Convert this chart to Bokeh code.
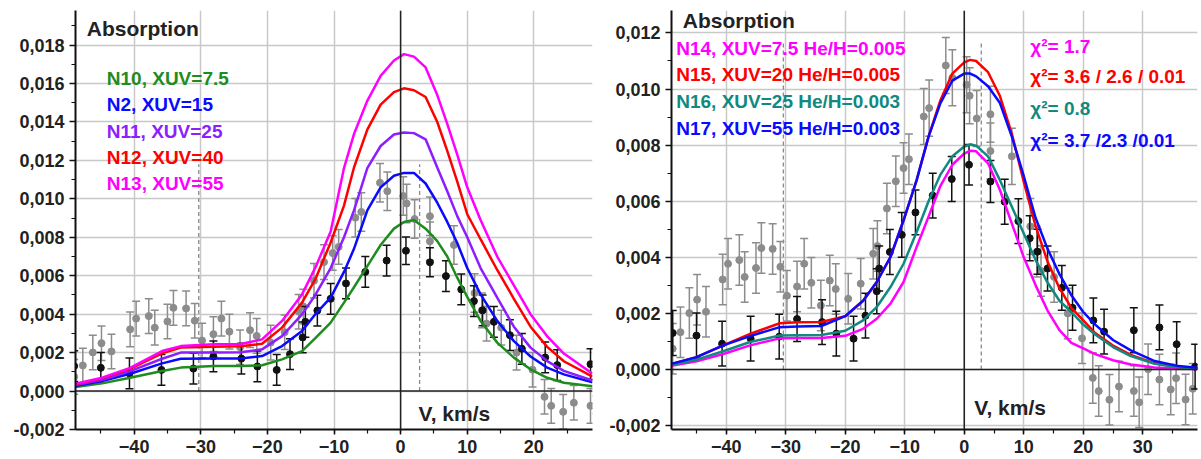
from bokeh.plotting import figure
from bokeh.layouts import row
from bokeh.models import Span, SingleIntervalTicker, CustomJSTickFormatter, Label
from bokeh.embed import file_html
from bokeh.resources import INLINE

# ---------------- observed absorption (shared by both panels) ----------------
black_v = [-49.0, -45.0, -40.7, -35.9, -31.1, -28.1, -23.9, -21.5, -18.6, -16.6, -14.7, -14.3,
           -12.5, -10.5, -8.2, -5.3, -2.1, 0.8, 4.4, 6.8, 9.1, 11.0, 12.3, 14.0, 16.4, 18.2,
           21.7, 23.5, 28.5, 32.8, 35.7, 38.8]
black_a = [0.00130, 0.00121, 0.00092, 0.00110, 0.00117, 0.00180, 0.00169, 0.00128, 0.00110, 0.00192,
           0.00279, 0.00360, 0.00419, 0.00480, 0.00560, 0.00620, 0.00679, 0.00730, 0.00670, 0.00598,
           0.00529, 0.00468, 0.00420, 0.00360, 0.00291, 0.00220, 0.00175, 0.00135, 0.00140, 0.00150,
           0.00090, 0.00010]
black_err = [0.0008] * 17 + [0.00072, 0.00075] + [0.0008] * 13

gray_v = [-49.0, -47.7, -46.2, -44.9, -43.4, -40.6, -39.7, -37.8, -36.9, -35.0, -34.1, -32.2,
          -30.9, -29.8, -28.1, -26.9, -25.7, -24.1, -22.6, -21.6, -19.5, -17.4, -15.3, -14.6,
          -13.0, -11.5, -10.2, -9.3, -6.8, -5.9, -3.1, -2.0, 0.4, 0.9, 2.1, 4.4, 4.4, 8.0,
          11.1, 12.2, 12.9, 15.1, 17.4, 19.8, 21.6, 22.6, 24.4, 26.0, 28.5, 29.4, 30.9, 32.8,
          34.7, 35.6, 37.2, 38.4]
gray_a = [0.00074, 0.00133, 0.00201, 0.00249, 0.00206, 0.00321, 0.00377, 0.00390, 0.00330, 0.00362,
          0.00433, 0.00430, 0.00366, 0.00263, 0.00296, 0.00377, 0.00309, 0.00228, 0.00317, 0.00287,
          0.00252, 0.00306, 0.00413, 0.00440, 0.00574, 0.00671, 0.00718, 0.00750, 0.00902, 0.00932,
          0.01084, 0.01040, 0.01015, 0.00976, 0.00895, 0.00910, 0.00779, 0.00760, 0.00510, 0.00420,
          0.00351, 0.00330, 0.00200, 0.00111, -0.00030, -0.00077, -0.00108, -0.00061, -0.00077,
          -0.00117, 0.00001, -0.00036, -0.00071, -0.00031, -0.00107, -0.00069]
gray_err = [0.0009] * 28 + [0.001] * 11 + [0.0009] * 17

# ---------------- left panel models ----------------
left_v = [-48.8, -44.8, -40.6, -35.8, -33.0, -28.0, -24.0, -20.8, -17.8, -14.8, -12.8, -10.5,
          -8.5, -7.0, -5.0, -3.0, -1.0, 0.5, 2.0, 3.75, 5.5, 7.0, 8.5, 10.0, 12.0, 14.5, 17.0,
          19.5, 22.0, 24.5, 28.8]
n10_xuv7_5 = [0.21, 0.40, 0.69, 1.04, 1.22, 1.30, 1.30, 1.34, 1.65, 2.08, 2.75, 3.56, 4.60, 5.40,
              6.50, 7.60, 8.45, 8.80, 8.90, 8.45, 7.80, 7.00, 5.90, 4.90, 3.65, 2.52, 1.74, 1.13,
              0.69, 0.43, 0.25]
n2_xuv15 = [0.26, 0.52, 0.90, 1.44, 1.68, 1.70, 1.70, 1.82, 2.34, 3.13, 4.00, 4.86, 6.20, 7.40,
            9.40, 10.60, 11.20, 11.35, 11.35, 10.80, 9.80, 8.80, 7.70, 6.40, 5.03, 3.65, 2.60,
            1.80, 1.22, 0.87, 0.45]
n11_xuv25 = [0.31, 0.59, 1.04, 1.68, 2.00, 2.00, 2.02, 2.17, 2.86, 3.99, 5.00, 6.40, 8.00, 9.40,
             11.60, 12.75, 13.35, 13.45, 13.42, 13.10, 11.63, 10.40, 9.10, 8.00, 6.40, 4.86, 3.35,
             2.26, 1.56, 1.05, 0.55]
n12_xuv40 = [0.35, 0.66, 1.16, 1.96, 2.26, 2.31, 2.33, 2.46, 3.30, 4.60, 5.82, 7.73, 9.65, 11.63,
             13.60, 14.90, 15.55, 15.75, 15.65, 15.30, 14.00, 12.50, 10.90, 9.20, 7.90, 6.30, 4.80,
             3.35, 2.30, 1.55, 0.75]
n13_xuv55 = [0.38, 0.69, 1.21, 2.08, 2.34, 2.43, 2.45, 2.69, 3.65, 5.03, 6.42, 8.30, 11.60, 13.37,
             15.10, 16.40, 17.20, 17.53, 17.40, 16.84, 15.40, 13.90, 12.30, 10.60, 8.90, 7.00, 5.50,
             4.00, 2.85, 1.95, 0.90]

# ---------------- right panel models ----------------
right_v = [-49.2, -45.0, -40.5, -36.0, -31.0, -28.0, -24.0, -20.0, -17.0, -14.7, -12.4, -10.2,
           -8.0, -6.0, -4.0, -2.0, 0.0, 1.0, 2.0, 4.0, 6.0, 8.0, 10.0, 12.0, 14.0, 16.0, 18.0,
           20.0, 22.0, 25.0, 28.0, 32.0, 36.0, 39.2]
n14_xuv7_5 = [0.13, 0.29, 0.55, 0.86, 1.11, 1.12, 1.12, 1.20, 1.45, 1.81, 2.35, 3.12, 4.37, 5.45,
              6.55, 7.30, 7.70, 7.80, 7.78, 7.35, 6.40, 5.20, 4.00, 3.00, 2.10, 1.40, 0.95, 0.75,
              0.55, 0.33, 0.18, 0.07, 0.03, 0.02]
n15_xuv20 = [0.20, 0.44, 0.86, 1.27, 1.65, 1.68, 1.69, 1.90, 2.45, 3.12, 4.01, 5.32, 6.75, 8.30,
             9.60, 10.55, 10.95, 11.04, 11.00, 10.60, 9.75, 8.40, 6.70, 5.10, 3.85, 2.90, 2.20,
             1.75, 1.30, 0.85, 0.52, 0.22, 0.08, 0.04]
n16_xuv25 = [0.17, 0.35, 0.65, 0.98, 1.21, 1.22, 1.23, 1.38, 1.75, 2.23, 2.94, 3.77, 4.90, 6.00,
             6.95, 7.60, 7.95, 8.02, 7.98, 7.60, 6.75, 5.80, 4.85, 3.90, 3.10, 2.45, 2.05, 1.60,
             1.25, 0.80, 0.48, 0.20, 0.08, 0.03]
n17_xuv55 = [0.20, 0.44, 0.86, 1.19, 1.51, 1.53, 1.55, 1.90, 2.45, 3.12, 4.01, 5.32, 6.75, 8.30,
             9.50, 10.30, 10.55, 10.55, 10.45, 10.10, 9.50, 8.30, 6.90, 5.40, 4.30, 3.40, 2.65,
             2.05, 1.60, 1.05, 0.68, 0.30, 0.12, 0.06]

left_labels = ["N10, XUV=7.5", "N2, XUV=15", "N11, XUV=25", "N12, XUV=40", "N13, XUV=55"]
left_colors = ["#1f8c1f", "#0a0aff", "#8c1eff", "#ff0000", "#ff00ff"]
right_labels = ["N14, XUV=7.5 He/H=0.005", "N15, XUV=20 He/H=0.005",
                "N16, XUV=25 He/H=0.003", "N17, XUV=55 He/H=0.003"]
right_chi = ["\u03c7\u00b2= 1.7", "\u03c7\u00b2= 3.6 / 2.6  / 0.01", "\u03c7\u00b2= 0.8",
             "\u03c7\u00b2=  3.7 /2.3 /0.01"]
right_colors = ["#ff00ff", "#ff0000", "#12897f", "#0a0aff"]

left_guides = [-30.3, 2.85]
right_guides = [-30.4, 2.86]

FONT = "Liberation Sans"
TXT = "#222222"


def panel(width, xr, yr, borders, guides, guide_top):
    p = figure(width=width, height=459, x_range=xr, y_range=yr, output_backend="svg",
               toolbar_location=None, min_border_left=borders[0], min_border_right=borders[1],
               min_border_top=borders[2], min_border_bottom=borders[3])
    p.outline_line_color = None
    p.background_fill_color = "white"
    p.border_fill_color = "white"
    p.xaxis.ticker = SingleIntervalTicker(interval=10, num_minor_ticks=2)
    p.yaxis.ticker = SingleIntervalTicker(interval=0.002, num_minor_ticks=2)
    p.yaxis.formatter = CustomJSTickFormatter(code="""
        var s = Math.abs(tick) < 1e-9 ? '0.000' : tick.toFixed(3);
        return s.replace('.', ',');""")
    for ax in (p.xaxis, p.yaxis):
        ax.axis_line_width = 2
        ax.axis_line_color = "#111111"
        ax.major_tick_line_color = "#111111"
        ax.minor_tick_line_color = "#111111"
        ax.major_tick_line_width = 1.5
        ax.minor_tick_line_width = 1.2
        ax.major_tick_in = 0
        ax.minor_tick_in = 0
        ax.major_label_text_font = FONT
        ax.major_label_text_font_style = "bold"
        ax.major_label_text_color = TXT
        ax.major_label_text_font_size = "18px"
    p.yaxis.major_label_text_baseline = "middle"
    p.yaxis.major_tick_out = 6
    p.yaxis.minor_tick_out = 4
    p.xaxis.major_tick_out = 5
    p.xaxis.minor_tick_out = 4
    p.yaxis.major_label_standoff = 5
    p.xaxis.major_label_standoff = 5
    p.xgrid.grid_line_color = "#c8c8c8"
    p.ygrid.grid_line_color = "#c8c8c8"
    p.xgrid.grid_line_width = 1.5
    p.ygrid.grid_line_width = 1.5
    p.add_layout(Span(location=0, dimension="height", line_color="#222222", line_width=1.5))
    p.add_layout(Span(location=0, dimension="width", line_color="#222222", line_width=1.5))
    p.segment(x0=guides, y0=[0] * len(guides), x1=guides, y1=[guide_top] * len(guides),
              line_color="#8a8a8a", line_width=1.3, line_dash="4 3")
    # observed points with error bars
    for v, a, e, col in ((gray_v, gray_a, gray_err, "#8c8c8c"),
                         (black_v, black_a, black_err, "#111111")):
        lo = [ai - ei for ai, ei in zip(a, e)]
        hi = [ai + ei for ai, ei in zip(a, e)]
        p.segment(x0=v, y0=lo, x1=v, y1=hi, line_color=col, line_width=1.5)
        p.scatter(x=v, y=lo, marker="dash", size=8, line_color=col, line_width=1.5)
        p.scatter(x=v, y=hi, marker="dash", size=8, line_color=col, line_width=1.5)
        p.scatter(x=v, y=a, marker="circle", size=7, fill_color=col, line_color=col)
    return p


def label(p, x, y, text, color, size, bold=True):
    p.add_layout(Label(x=x, y=y, text=text, text_color=color, text_font=FONT,
                       text_font_size=size, text_font_style="bold" if bold else "normal",
                       text_baseline="middle", text_align="left"))


# ---- left ----
p1 = panel(600, (-48.8, 28.8), (-0.002, 0.0198), (75, 8, 10, 30), left_guides, 0.0118)
for series, col in zip([n10_xuv7_5, n2_xuv15, n11_xuv25, n12_xuv40, n13_xuv55], left_colors):
    p1.line(left_v, [s * 1e-3 for s in series], line_color=col, line_width=2.5)
label(p1, -47.1, 0.01885, "Absorption", TXT, "21px")
for i, (t, c) in enumerate(zip(left_labels, left_colors)):
    label(p1, -44.1, 0.01625 - i * 0.00136, t, c, "19px")
label(p1, 2.7, -0.00115, "V, km/s", TXT, "21px")

# ---- right ----
p2 = panel(601, (-49.2, 39.2), (-0.00214, 0.0128), (71, 4, 10, 30), right_guides, 0.0117)
for series, col in zip([n14_xuv7_5, n15_xuv20, n16_xuv25, n17_xuv55], right_colors):
    p2.line(right_v, [s * 1e-3 for s in series], line_color=col, line_width=2.5)
label(p2, -47.3, 0.01246, "Absorption", TXT, "21px")
chi_y = [0.0115, 0.01046, 0.00932, 0.00818]
for i, (t, c) in enumerate(zip(right_labels, right_colors)):
    label(p2, -48.4, 0.01146 - i * 0.00095, t, c, "19px")
    label(p2, 11.1, chi_y[i], right_chi[i], c, "19px")
label(p2, 1.7, -0.00136, "V, km/s", TXT, "21px")

layout = row(p1, p2)
open("out.html", "w").write(file_html(layout, INLINE))
